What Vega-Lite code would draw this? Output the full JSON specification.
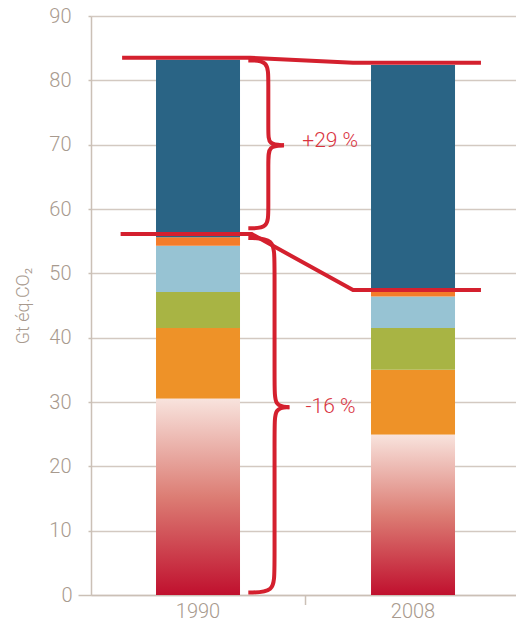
{
  "$schema": "https://vega.github.io/schema/vega-lite/v6.json",
  "width": 425,
  "height": 579,
  "autosize": {"type": "none"},
  "padding": {"left": 91, "top": 16, "right": 0, "bottom": 30},
  "background": "white",
  "config": {
    "view": {"stroke": null},
    "font": "Roboto",
    "axis": {
      "labelFont": "Roboto",
      "labelFontWeight": 300,
      "labelFontSize": 20,
      "labelColor": "#a89a8e",
      "titleFont": "Roboto",
      "titleFontWeight": 300,
      "titleColor": "#a89a8e",
      "domainColor": "#cbc0b6",
      "domainWidth": 1.5,
      "tickColor": "#cbc0b6",
      "tickWidth": 1.5,
      "gridColor": "#d3c9c1",
      "gridWidth": 1.4
    }
  },
  "datasets": {
    "bars": [
      {"year": "1990", "segment": "red", "order": 1, "value": 30.5},
      {"year": "1990", "segment": "orange", "order": 2, "value": 11.0},
      {"year": "1990", "segment": "green", "order": 3, "value": 5.6},
      {"year": "1990", "segment": "lightblue", "order": 4, "value": 7.2},
      {"year": "1990", "segment": "orange2", "order": 5, "value": 1.3},
      {"year": "1990", "segment": "darkblue", "order": 6, "value": 27.6},
      {"year": "2008", "segment": "red", "order": 1, "value": 24.9},
      {"year": "2008", "segment": "orange", "order": 2, "value": 10.1},
      {"year": "2008", "segment": "green", "order": 3, "value": 6.5},
      {"year": "2008", "segment": "lightblue", "order": 4, "value": 4.9},
      {"year": "2008", "segment": "orange2", "order": 5, "value": 0.9},
      {"year": "2008", "segment": "darkblue", "order": 6, "value": 35.1}
    ],
    "lines": [
      {"id": "top", "i": 1, "pos": -0.353, "v": 83.5},
      {"id": "top", "i": 2, "pos": 0.242, "v": 83.5},
      {"id": "top", "i": 3, "pos": 0.721, "v": 82.75},
      {"id": "top", "i": 4, "pos": 1.316, "v": 82.75},
      {"id": "low", "i": 1, "pos": -0.36, "v": 56.1},
      {"id": "low", "i": 2, "pos": 0.25, "v": 56.1},
      {"id": "low", "i": 3, "pos": 0.721, "v": 47.4},
      {"id": "low", "i": 4, "pos": 1.316, "v": 47.4}
    ],
    "braces": [
      {"id": "u1", "i": 1, "pos": 0.234, "v": 83.1},
      {"id": "u1", "i": 2, "pos": 0.327, "v": 83.1},
      {"id": "u1", "i": 3, "pos": 0.327, "v": 80.0},
      {"id": "u1", "i": 4, "pos": 0.327, "v": 72.0},
      {"id": "u1", "i": 5, "pos": 0.327, "v": 70.0},
      {"id": "u1", "i": 6, "pos": 0.4, "v": 69.9},
      {"id": "u2", "i": 1, "pos": 0.4, "v": 69.9},
      {"id": "u2", "i": 2, "pos": 0.327, "v": 69.8},
      {"id": "u2", "i": 3, "pos": 0.327, "v": 67.6},
      {"id": "u2", "i": 4, "pos": 0.327, "v": 59.8},
      {"id": "u2", "i": 5, "pos": 0.327, "v": 57.0},
      {"id": "u2", "i": 6, "pos": 0.234, "v": 57.0},
      {"id": "l1", "i": 1, "pos": 0.234, "v": 55.5},
      {"id": "l1", "i": 2, "pos": 0.356, "v": 55.4},
      {"id": "l1", "i": 3, "pos": 0.356, "v": 52.0},
      {"id": "l1", "i": 4, "pos": 0.356, "v": 32.5},
      {"id": "l1", "i": 5, "pos": 0.356, "v": 29.3},
      {"id": "l1", "i": 6, "pos": 0.425, "v": 29.2},
      {"id": "l2", "i": 1, "pos": 0.425, "v": 29.2},
      {"id": "l2", "i": 2, "pos": 0.356, "v": 29.1},
      {"id": "l2", "i": 3, "pos": 0.356, "v": 26.0},
      {"id": "l2", "i": 4, "pos": 0.356, "v": 3.8},
      {"id": "l2", "i": 5, "pos": 0.356, "v": 0.4},
      {"id": "l2", "i": 6, "pos": 0.234, "v": 0.4}
    ],
    "labels": [
      {"text": "+29 %", "pos": 0.485, "v": 70.5},
      {"text": "-16 %", "pos": 0.5, "v": 29.2}
    ],
    "divider": [
      {"pos": 0.5, "v": 0}
    ]
  },
  "layer": [
    {
      "data": {"name": "bars"},
      "transform": [
        {"stack": "value", "groupby": ["year"], "sort": [{"field": "order", "order": "ascending"}], "as": ["y0", "y1"]}
      ],
      "encoding": {
        "x": {
          "field": "year",
          "type": "nominal",
          "sort": ["1990", "2008"],
          "scale": {"paddingInner": 0.6093, "paddingOuter": 0.293, "align": 0.516},
          "axis": {
            "title": null,
            "labelAngle": 0,
            "grid": false,
            "ticks": false,
            "labelPadding": 6
          }
        },
        "y": {
          "field": "y0",
          "type": "quantitative",
          "title": "Gt éq.CO₂",
          "scale": {"domain": [0, 90], "nice": false, "zero": true},
          "axis": {
            "values": [0, 10, 20, 30, 40, 50, 60, 70, 80, 90],
            "tickSize": {"condition": {"test": "datum.value === 0", "value": 13}, "value": 3},
            "labelPadding": {"condition": {"test": "datum.value === 0", "value": 6}, "value": 17},
            "titleFontSize": 18,
            "titlePadding": 16,
            "grid": true
          }
        },
        "y2": {"field": "y1"}
      },
      "layer": [
        {
          "transform": [{"filter": "datum.segment !== 'red'"}],
          "mark": {"type": "bar"},
          "encoding": {
            "color": {
              "field": "segment",
              "type": "nominal",
              "legend": null,
              "scale": {
                "domain": ["orange", "green", "lightblue", "orange2", "darkblue"],
                "range": ["#ee9228", "#a8b444", "#97c3d3", "#f47c2a", "#2a6485"]
              }
            }
          }
        },
        {
          "transform": [{"filter": "datum.segment === 'red'"}],
          "mark": {
            "type": "bar",
            "fill": {
              "gradient": "linear",
              "x1": 0, "y1": 0, "x2": 0, "y2": 1,
              "stops": [
                {"offset": 0, "color": "#f8e3dd"},
                {"offset": 0.5, "color": "#dc7d74"},
                {"offset": 1, "color": "#c0102e"}
              ]
            }
          }
        }
      ]
    },
    {
      "layer": [
        {
          "data": {"name": "lines"},
          "mark": {"type": "line", "color": "#d4202e", "strokeWidth": 4, "strokeCap": "butt"},
          "encoding": {
            "x": {"field": "pos", "type": "quantitative", "scale": {"domain": [-0.4977, 1.479], "nice": false, "zero": false}, "axis": null},
            "y": {"field": "v", "type": "quantitative", "title": "Gt éq.CO₂"},
            "detail": {"field": "id"},
            "order": {"field": "i"}
          }
        },
        {
          "data": {"name": "braces"},
          "mark": {"type": "line", "color": "#d4202e", "strokeWidth": 4, "strokeCap": "butt", "interpolate": "basis"},
          "encoding": {
            "x": {"field": "pos", "type": "quantitative", "axis": null},
            "y": {"field": "v", "type": "quantitative", "title": "Gt éq.CO₂"},
            "detail": {"field": "id"},
            "order": {"field": "i"}
          }
        },
        {
          "data": {"name": "divider"},
          "mark": {"type": "rule", "color": "#cbc0b6", "strokeWidth": 1.5, "y2Offset": 10},
          "encoding": {
            "x": {"field": "pos", "type": "quantitative", "axis": null},
            "y": {"field": "v", "type": "quantitative", "title": "Gt éq.CO₂"},
            "y2": {"field": "v"}
          }
        },
        {
          "data": {"name": "labels"},
          "mark": {"type": "text", "align": "left", "baseline": "middle", "fontSize": 21, "fontWeight": 300, "font": "Roboto", "color": "#d9343f"},
          "encoding": {
            "x": {"field": "pos", "type": "quantitative", "axis": null},
            "y": {"field": "v", "type": "quantitative", "title": "Gt éq.CO₂"},
            "text": {"field": "text"}
          }
        }
      ]
    }
  ],
  "resolve": {"scale": {"x": "independent"}}
}
